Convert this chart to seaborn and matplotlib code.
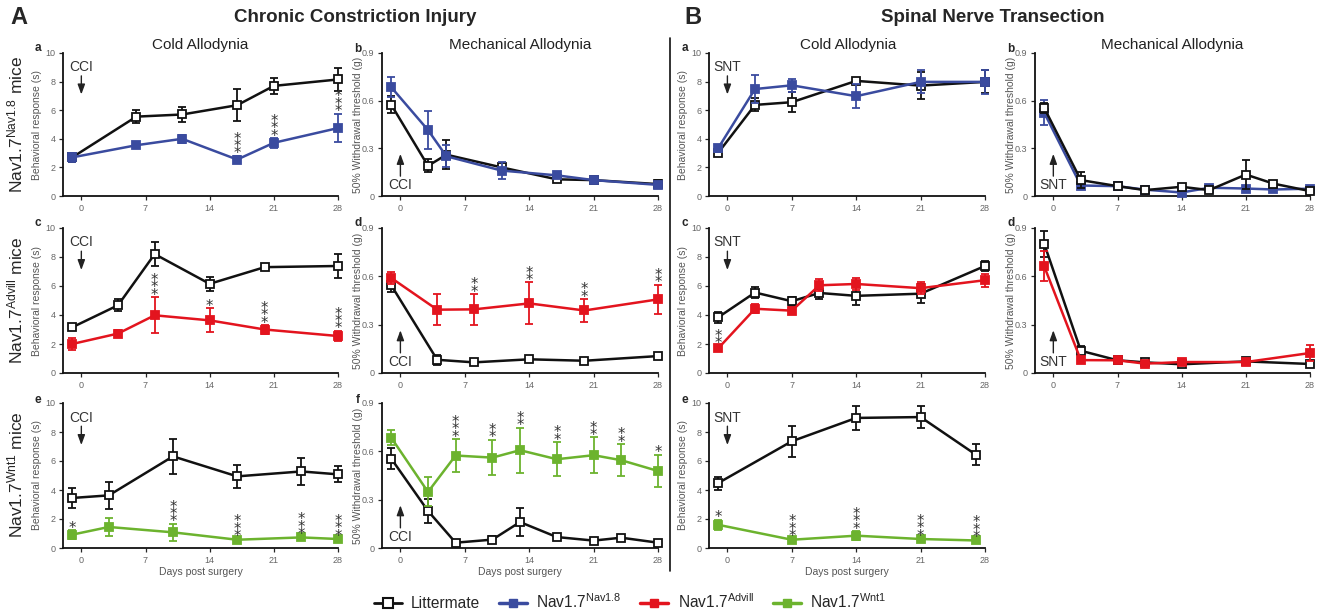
import seaborn as sns
import matplotlib.pyplot as plt
from matplotlib.lines import Line2D

W, H = 1319, 613

LM_COLOR = '#111111'
NAV18_COLOR = '#3a4b9f'
ADVILL_COLOR = '#e3141e'
WNT1_COLOR = '#6cb32e'

# --- CCI, Nav1.7 Nav1.8 ---
cci_a_days = [-1, 6, 11, 17, 21, 28]
cci_a_lm = [2.7, 5.55, 5.7, 6.35, 7.7, 8.15]
cci_a_lm_err = [0.3, 0.45, 0.5, 1.1, 0.55, 0.78]
cci_a_ko = [2.7, 3.55, 4.0, 2.55, 3.72, 4.75]
cci_a_ko_err = [0.3, 0.2, 0.3, 0.25, 0.33, 1.0]
cci_a_star_days = [17, 21, 28]
cci_a_stars = ['***', '***', '***']

cci_b_days = [-1, 3, 5, 11, 17, 21, 28]
cci_b_lm = [0.575, 0.19, 0.26, 0.18, 0.105, 0.10, 0.075]
cci_b_lm_err = [0.055, 0.04, 0.09, 0.025, 0.015, 0.015, 0.025]
cci_b_ko = [0.685, 0.415, 0.25, 0.16, 0.13, 0.10, 0.07]
cci_b_ko_err = [0.065, 0.12, 0.07, 0.055, 0.015, 0.015, 0.015]

# --- CCI, Nav1.7 Advill ---
cci_c_days = [-1, 4, 8, 14, 20, 28]
cci_c_lm = [3.15, 4.67, 8.2, 6.15, 7.3, 7.38]
cci_c_lm_err = [0.15, 0.4, 0.8, 0.5, 0.15, 0.8]
cci_c_ko = [2.0, 2.72, 3.98, 3.63, 3.0, 2.55]
cci_c_ko_err = [0.4, 0.25, 1.25, 0.83, 0.3, 0.35]
cci_c_star_days = [8, 14, 20, 28]
cci_c_stars = ['***', '*', '***', '***']

cci_d_days = [-1, 4, 8, 14, 20, 28]
cci_d_lm = [0.545, 0.082, 0.066, 0.085, 0.076, 0.105]
cci_d_lm_err = [0.045, 0.03, 0.01, 0.015, 0.01, 0.015]
cci_d_ko = [0.59, 0.393, 0.395, 0.432, 0.388, 0.457]
cci_d_ko_err = [0.035, 0.095, 0.095, 0.13, 0.07, 0.09]
cci_d_star_days = [8, 14, 20, 28]
cci_d_stars = ['**', '**', '**', '**']

# --- CCI, Nav1.7 Wnt1 ---
cci_e_days = [-1, 3, 10, 17, 24, 28]
cci_e_lm = [3.45, 3.63, 6.32, 4.94, 5.28, 5.08]
cci_e_lm_err = [0.67, 0.95, 1.2, 0.77, 0.92, 0.55]
cci_e_ko = [0.92, 1.45, 1.08, 0.57, 0.73, 0.62]
cci_e_ko_err = [0.3, 0.6, 0.58, 0.06, 0.05, 0.05]
cci_e_star_days = [-1, 10, 17, 24, 28]
cci_e_stars = ['*', '***', '***', '***', '***']

cci_f_days = [-1, 3, 6, 10, 13, 17, 21, 24, 28]
cci_f_lm = [0.555, 0.23, 0.033, 0.052, 0.161, 0.068, 0.046, 0.064, 0.033]
cci_f_lm_err = [0.065, 0.077, 0.01, 0.02, 0.087, 0.02, 0.01, 0.017, 0.01]
cci_f_ko = [0.685, 0.348, 0.574, 0.561, 0.607, 0.551, 0.576, 0.545, 0.478]
cci_f_ko_err = [0.048, 0.09, 0.1, 0.11, 0.14, 0.105, 0.11, 0.1, 0.1]
cci_f_star_days = [6, 10, 13, 17, 21, 24, 28]
cci_f_stars = ['***', '**', '**', '**', '**', '**', '*']

# --- SNT, Nav1.7 Nav1.8 ---
snt_a_days = [-1, 3, 7, 14, 21, 28]
snt_a_lm = [3.02, 6.37, 6.56, 8.05, 7.72, 7.98]
snt_a_lm_err = [0.15, 0.45, 0.7, 0.2, 0.95, 0.8]
snt_a_ko = [3.35, 7.48, 7.74, 6.98, 7.98, 7.98]
snt_a_ko_err = [0.25, 0.95, 0.45, 0.82, 0.8, 0.85]

snt_b_days = [-1, 3, 7, 10, 14, 17, 21, 24, 28]
snt_b_lm = [0.555, 0.10, 0.062, 0.037, 0.058, 0.037, 0.135, 0.078, 0.031]
snt_b_lm_err = [0.03, 0.05, 0.012, 0.008, 0.015, 0.008, 0.09, 0.012, 0.008]
snt_b_ko = [0.525, 0.066, 0.062, 0.04, 0.022, 0.052, 0.047, 0.041, 0.046]
snt_b_ko_err = [0.08, 0.015, 0.01, 0.008, 0.01, 0.01, 0.01, 0.008, 0.01]

# --- SNT, Nav1.7 Advill ---
snt_c_days = [-1, 3, 7, 10, 14, 21, 28]
snt_c_lm = [3.84, 5.55, 4.95, 5.52, 5.32, 5.47, 7.38]
snt_c_lm_err = [0.4, 0.37, 0.3, 0.4, 0.6, 0.65, 0.35]
snt_c_ko = [1.7, 4.43, 4.3, 6.05, 6.14, 5.85, 6.4]
snt_c_ko_err = [0.2, 0.3, 0.2, 0.4, 0.4, 0.4, 0.45]
snt_c_star_days = [-1]
snt_c_stars = ['**']

snt_d_days = [-1, 3, 7, 10, 14, 21, 28]
snt_d_lm = [0.803, 0.138, 0.079, 0.066, 0.054, 0.072, 0.056]
snt_d_lm_err = [0.08, 0.03, 0.012, 0.012, 0.012, 0.01, 0.01]
snt_d_ko = [0.663, 0.08, 0.079, 0.058, 0.068, 0.068, 0.124]
snt_d_ko_err = [0.095, 0.02, 0.012, 0.01, 0.012, 0.012, 0.05]

# --- SNT, Nav1.7 Wnt1 ---
snt_e_days = [-1, 7, 14, 21, 27]
snt_e_lm = [4.48, 7.36, 8.97, 9.03, 6.44]
snt_e_lm_err = [0.45, 1.05, 0.85, 0.75, 0.75]
snt_e_ko = [1.6, 0.57, 0.85, 0.62, 0.52]
snt_e_ko_err = [0.35, 0.06, 0.3, 0.06, 0.05]
snt_e_star_days = [-1, 7, 14, 21, 27]
snt_e_stars = ['*', '***', '***', '***', '***']

day_ticks = [0, 7, 14, 21, 28]
cold_ticks = [0, 2, 4, 6, 8, 10]
mech_ticks = [0, 0.3, 0.6, 0.9]
mech_tick_labels = ['0', '0.3', '0.6', '0.9']

sns.set_theme(style='ticks')
plt.rcParams['font.family'] = ['Liberation Sans', 'DejaVu Sans']
plt.rcParams['mathtext.fontset'] = 'custom'
plt.rcParams['mathtext.rm'] = 'Liberation Sans'
plt.rcParams['mathtext.it'] = 'Liberation Sans'

fig = plt.figure(figsize=(W / 100, H / 100), dpi=100)

ARROW = dict(arrowstyle='-|>,head_length=0.6,head_width=0.22', color='#222222', lw=1,
             mutation_scale=10, shrinkA=0, shrinkB=0)


def fx(px):
    return px / W


def fy(py):
    return 1 - py / H


def make_ax(left, right, top, bottom):
    return fig.add_axes([fx(left), fy(bottom), (right - left) / W, (bottom - top) / H])


def draw_panel(ax, days, lm, lm_err, ko, ko_err, color, kind, surgery,
               star_days=None, stars=None, lm_on_top=False, xlabel=False):
    lm_z, ko_z = (4, 3) if lm_on_top else (3, 4)
    for vals, err, c, face, z in [(lm, lm_err, LM_COLOR, 'white', lm_z),
                                  (ko, ko_err, color, color, ko_z)]:
        ax.errorbar(days, vals, yerr=err, fmt='none', ecolor=c, elinewidth=1.3,
                    capsize=3.2, capthick=1.3, zorder=z, clip_on=False)
        sns.lineplot(x=days, y=vals, ax=ax, color=c, linewidth=1.8, marker='s',
                     markersize=6, markerfacecolor=face, markeredgecolor=c,
                     markeredgewidth=1.3, zorder=z + 0.5, clip_on=False)
    if star_days:
        top = {d: v + e for d, v, e in zip(days, ko, ko_err)}
        for d, s in zip(star_days, stars):
            ax.annotate('\n'.join(s), xy=(d, top[d]), xytext=(0, -1.8),
                        textcoords='offset points', ha='center', va='baseline',
                        fontsize=10.5, family='DejaVu Sans', color='#333333',
                        linespacing=0.37, zorder=6)
    ax.set_xlim(-2, 28)
    ax.set_xticks(day_ticks)
    if kind == 'cold':
        ax.set_ylim(0, 10)
        ax.set_yticks(cold_ticks)
        ax.set_ylabel('Behavioral response (s)', fontsize=7.5, color='#555555')
        ax.yaxis.set_label_coords(-0.076, 0.5)
        ax.text(0, 9.0, surgery, ha='center', va='center', fontsize=10, color='#333333')
        ax.annotate('', xy=(0, 7.1), xytext=(0, 8.4), arrowprops=ARROW)
    else:
        ax.set_ylim(0, 0.9)
        ax.set_yticks(mech_ticks)
        ax.set_yticklabels(mech_tick_labels)
        ax.set_ylabel('50% Withdrawal threshold (g)', fontsize=7.5, color='#555555')
        ax.yaxis.set_label_coords(-0.07, 0.5)
        ax.text(0, 0.07, surgery, ha='center', va='center', fontsize=10, color='#333333')
        ax.annotate('', xy=(0, 0.265), xytext=(0, 0.125), arrowprops=ARROW)
    ax.set_xlabel('Days post surgery' if xlabel else '', fontsize=7.5, color='#555555', labelpad=2)
    ax.tick_params(labelsize=6.5, labelcolor='#666666', length=3, width=0.9, pad=2.5)
    for side in ['left', 'bottom']:
        ax.spines[side].set_linewidth(1.3)
        ax.spines[side].set_color('#111111')
    sns.despine(ax=ax)


COLD_L, COLD_R = 63, 338
MECH_L, MECH_R = 382, 658
B_COLD_L, B_COLD_R = 709, 985
B_MECH_L, B_MECH_R = 1035, 1310
ROWS = [(53, 196), (228, 373), (403, 548)]

ax = make_ax(COLD_L, COLD_R, *ROWS[0])
draw_panel(ax, cci_a_days, cci_a_lm, cci_a_lm_err, cci_a_ko, cci_a_ko_err, NAV18_COLOR,
           'cold', 'CCI', cci_a_star_days, cci_a_stars)
ax = make_ax(MECH_L, MECH_R, *ROWS[0])
draw_panel(ax, cci_b_days, cci_b_lm, cci_b_lm_err, cci_b_ko, cci_b_ko_err, NAV18_COLOR,
           'mech', 'CCI')
ax = make_ax(COLD_L, COLD_R, *ROWS[1])
draw_panel(ax, cci_c_days, cci_c_lm, cci_c_lm_err, cci_c_ko, cci_c_ko_err, ADVILL_COLOR,
           'cold', 'CCI', cci_c_star_days, cci_c_stars)
ax = make_ax(MECH_L, MECH_R, *ROWS[1])
draw_panel(ax, cci_d_days, cci_d_lm, cci_d_lm_err, cci_d_ko, cci_d_ko_err, ADVILL_COLOR,
           'mech', 'CCI', cci_d_star_days, cci_d_stars)
ax = make_ax(COLD_L, COLD_R, *ROWS[2])
draw_panel(ax, cci_e_days, cci_e_lm, cci_e_lm_err, cci_e_ko, cci_e_ko_err, WNT1_COLOR,
           'cold', 'CCI', cci_e_star_days, cci_e_stars, xlabel=True)
ax = make_ax(MECH_L, MECH_R, *ROWS[2])
draw_panel(ax, cci_f_days, cci_f_lm, cci_f_lm_err, cci_f_ko, cci_f_ko_err, WNT1_COLOR,
           'mech', 'CCI', cci_f_star_days, cci_f_stars, xlabel=True)

ax = make_ax(B_COLD_L, B_COLD_R, *ROWS[0])
draw_panel(ax, snt_a_days, snt_a_lm, snt_a_lm_err, snt_a_ko, snt_a_ko_err, NAV18_COLOR,
           'cold', 'SNT')
ax = make_ax(B_MECH_L, B_MECH_R, *ROWS[0])
draw_panel(ax, snt_b_days, snt_b_lm, snt_b_lm_err, snt_b_ko, snt_b_ko_err, NAV18_COLOR,
           'mech', 'SNT', lm_on_top=True)
ax = make_ax(B_COLD_L, B_COLD_R, *ROWS[1])
draw_panel(ax, snt_c_days, snt_c_lm, snt_c_lm_err, snt_c_ko, snt_c_ko_err, ADVILL_COLOR,
           'cold', 'SNT', snt_c_star_days, snt_c_stars)
ax = make_ax(B_MECH_L, B_MECH_R, *ROWS[1])
draw_panel(ax, snt_d_days, snt_d_lm, snt_d_lm_err, snt_d_ko, snt_d_ko_err, ADVILL_COLOR,
           'mech', 'SNT')
ax = make_ax(B_COLD_L, B_COLD_R, *ROWS[2])
draw_panel(ax, snt_e_days, snt_e_lm, snt_e_lm_err, snt_e_ko, snt_e_ko_err, WNT1_COLOR,
           'cold', 'SNT', snt_e_star_days, snt_e_stars, xlabel=True)

# headings
fig.text(fx(10), fy(17), 'A', fontsize=17, fontweight='bold', va='center', ha='left')
fig.text(fx(355), fy(17), 'Chronic Constriction Injury', fontsize=13.5, fontweight='bold',
         va='center', ha='center')
fig.text(fx(684), fy(17), 'B', fontsize=17, fontweight='bold', va='center', ha='left')
fig.text(fx(993), fy(17), 'Spinal Nerve Transection', fontsize=13.5, fontweight='bold',
         va='center', ha='center')
for cx, t in [(200, 'Cold Allodynia'), (520, 'Mechanical Allodynia'),
              (848, 'Cold Allodynia'), (1172, 'Mechanical Allodynia')]:
    fig.text(fx(cx), fy(45), t, fontsize=11, va='center', ha='center', color='#222222')

for px, py, letter in [(38, 48, 'a'), (358, 49, 'b'), (38, 223, 'c'), (358, 223, 'd'),
                       (38, 400, 'e'), (358, 400, 'f'), (685, 48, 'a'), (1011, 49, 'b'),
                       (685, 223, 'c'), (1011, 223, 'd'), (685, 400, 'e')]:
    fig.text(fx(px), fy(py), letter, fontsize=8.5, fontweight='bold', va='center', ha='center')

for py, sup in [(125, 'Nav1.8'), (300, 'Advill'), (475, 'Wnt1')]:
    fig.text(fx(15), fy(py), 'Nav1.7$^{\\mathrm{' + sup + '}}$ mice', fontsize=12.5,
             rotation=90, va='center', ha='center')

fig.add_artist(Line2D([fx(670), fx(670)], [fy(38), fy(571)], color='#111111', lw=1.2))

handles = [
    Line2D([], [], color=LM_COLOR, lw=2, marker='s', markersize=7,
           markerfacecolor='white', markeredgewidth=1.5),
    Line2D([], [], color=NAV18_COLOR, lw=2.5, marker='s', markersize=6),
    Line2D([], [], color=ADVILL_COLOR, lw=2.5, marker='s', markersize=6),
    Line2D([], [], color=WNT1_COLOR, lw=2.5, marker='s', markersize=6),
]
labels = ['Littermate', 'Nav1.7$^{\\mathrm{Nav1.8}}$', 'Nav1.7$^{\\mathrm{Advill}}$',
          'Nav1.7$^{\\mathrm{Wnt1}}$']
fig.legend(handles, labels, loc='center', bbox_to_anchor=(fx(630), fy(602)), ncol=4,
           frameon=False, fontsize=11.2, handlelength=1.8, columnspacing=1.2, handletextpad=0.6)

fig.savefig('out.png', dpi=100)
